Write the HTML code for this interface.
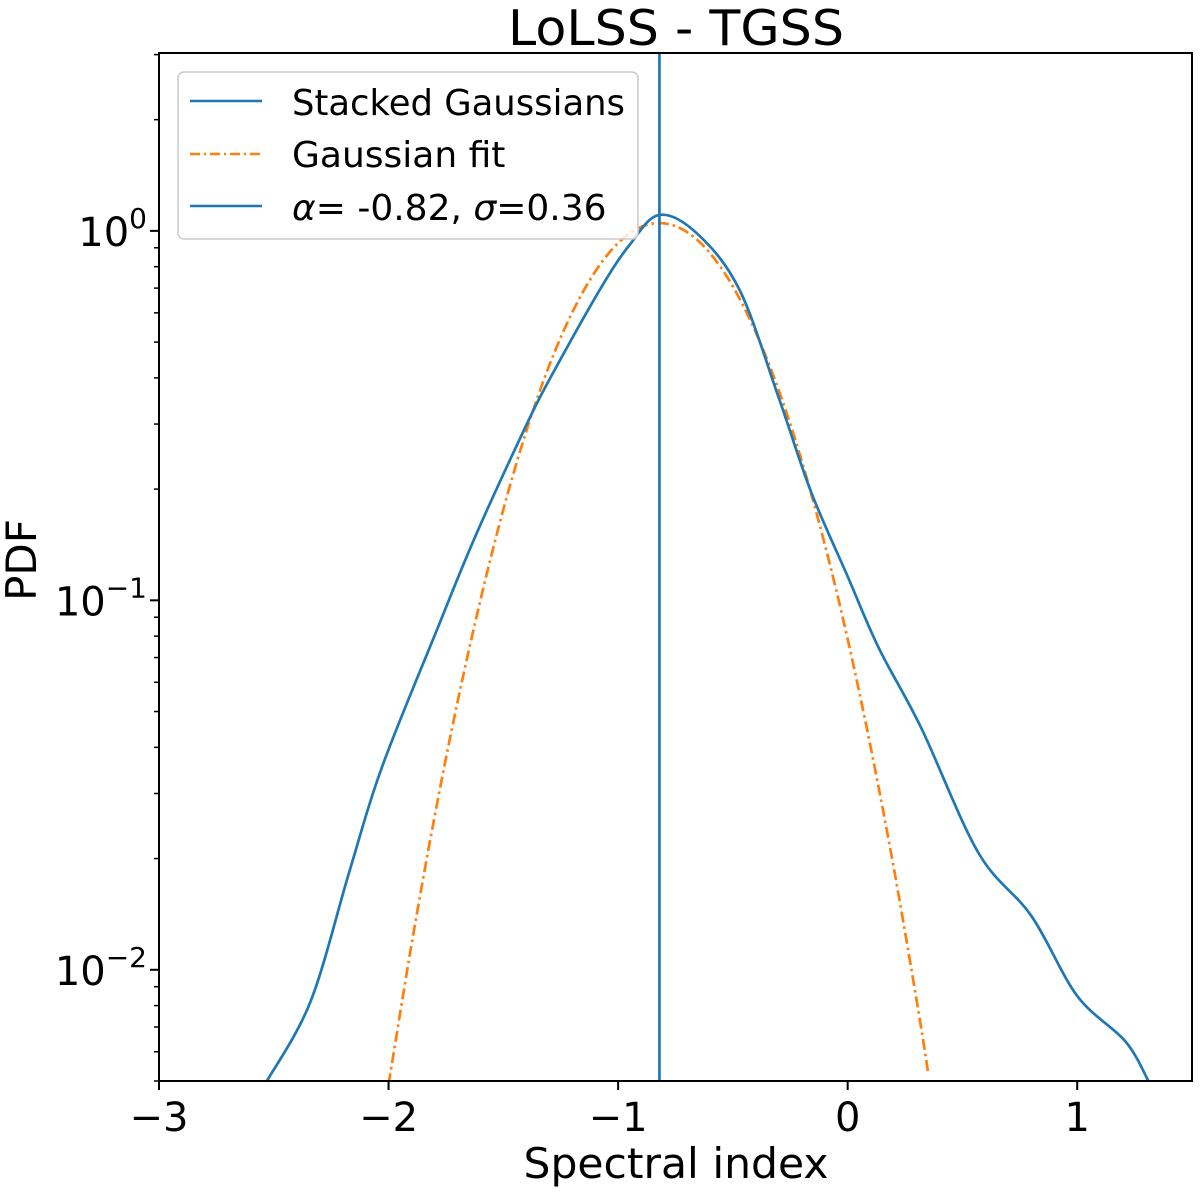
<!DOCTYPE html>
<html><head><meta charset="utf-8"><style>
html,body{margin:0;padding:0;background:#fff;}
svg text{font-family:"DejaVu Sans","Liberation Sans",sans-serif;fill:#000;}
</style></head><body>
<svg id="chart" width="1200" height="1191" viewBox="0 0 1200 1191" xmlns="http://www.w3.org/2000/svg">
<text x="676" y="45" font-size="49" text-anchor="middle" textLength="336" lengthAdjust="spacingAndGlyphs">LoLSS - TGSS</text>
<g id="plot"></g>
<text x="676" y="1178" font-size="42" text-anchor="middle" textLength="305" lengthAdjust="spacingAndGlyphs">Spectral index</text>
<text transform="translate(36,560) rotate(-90)" font-size="42" text-anchor="middle">PDF</text>
<g>
<rect x="178" y="72" width="460" height="167" rx="6" fill="#fff" fill-opacity="0.8" stroke="#ccc" stroke-width="1.5"/>
<line x1="190" y1="101" x2="262" y2="101" stroke="#1f77b4" stroke-width="2.5"/>
<text x="292" y="115" font-size="36" textLength="333" lengthAdjust="spacingAndGlyphs">Stacked Gaussians</text>
<line x1="190" y1="154" x2="262" y2="154" stroke="#ff7f0e" stroke-width="2.5" stroke-dasharray="10,4,2,4"/>
<text x="292" y="167" font-size="36">Gaussian fit</text>
<line x1="190" y1="206" x2="262" y2="206" stroke="#1f77b4" stroke-width="2.5"/>
<text x="292" y="220" font-size="36"><tspan font-style="italic">α</tspan>= -0.82, <tspan font-style="italic">σ</tspan>=0.36</text>
</g>
</svg>
<script>
const stackedX = [-2.53,-2.34,-2.17,-2.03,-1.79,-1.62,-1.41,-1.30,-1.08,-0.95,-0.82,-0.65,-0.47,-0.30,-0.16,0.0,0.135,0.32,0.57,0.80,1.00,1.21,1.31];
const stackedY = [0.005,0.0082,0.0185,0.0352,0.083,0.150,0.289,0.395,0.692,0.916,1.105,0.976,0.69,0.353,0.197,0.116,0.0744,0.0452,0.0207,0.0140,0.0085,0.0064,0.005];
const fitX = [-2.0,-1.9,-1.8,-1.7,-1.6,-1.5,-1.4,-1.3,-1.2,-1.1,-1.0,-0.9,-0.8,-0.7,-0.6,-0.5,-0.4,-0.3,-0.2,-0.1,0.0,0.1,0.2,0.3,0.35];
const fitY = [0.0049,0.0117,0.0259,0.0529,0.100,0.176,0.287,0.432,0.601,0.776,0.927,1.025,1.048,0.993,0.871,0.707,0.531,0.370,0.238,0.142,0.0785,0.0401,0.0190,0.0083,0.0053];
const meanAlpha = -0.82;
const xTicks = [-3,-2,-1,0,1];
const xTickLabels = ["\u22123","\u22122","\u22121","0","1"];
const yTicks = [-2,-1,0];
const yTickLabels = ["\u22122","\u22121","0"];

const L=159, R=1192, T=53, B=1081;
const xMin=-3, xMax=1.5, yMin=Math.log10(0.005), yMax=Math.log10(3.03);
const sx = v => L + (v-xMin)/(xMax-xMin)*(R-L);
const sy = v => B - (Math.log10(v)-yMin)/(yMax-yMin)*(B-T);
const syl = l => B - (l-yMin)/(yMax-yMin)*(B-T);
const NS="http://www.w3.org/2000/svg";
const plot=document.getElementById('plot');
function mk(tag,attrs,parent){const e=document.createElementNS(NS,tag);for(const k in attrs)e.setAttribute(k,attrs[k]);(parent||plot).appendChild(e);return e;}

const defs=mk('defs',{});
const cp=mk('clipPath',{id:'clip'},defs);
mk('rect',{x:L,y:T,width:R-L,height:B-T},cp);

function smoothPath(xs,ys){
  const p=xs.map((x,i)=>[sx(x),sy(ys[i])]);
  let d='M'+p[0][0].toFixed(1)+','+p[0][1].toFixed(1);
  for(let i=0;i<p.length-1;i++){
    const p0=p[Math.max(0,i-1)],p1=p[i],p2=p[i+1],p3=p[Math.min(p.length-1,i+2)];
    const c1=[p1[0]+(p2[0]-p0[0])/6,p1[1]+(p2[1]-p0[1])/6];
    const c2=[p2[0]-(p3[0]-p1[0])/6,p2[1]-(p3[1]-p1[1])/6];
    d+=' C'+c1.map(v=>v.toFixed(1)).join(',')+' '+c2.map(v=>v.toFixed(1)).join(',')+' '+p2[0].toFixed(1)+','+p2[1].toFixed(1);
  }
  return d;
}
const g=mk('g',{'clip-path':'url(#clip)'});
const fit=mk('path',{d:smoothPath(fitX,fitY),fill:'none',stroke:'#ff7f0e','stroke-width':2.7,'stroke-dasharray':'11,4,2.5,4'},g);


const st=mk('path',{d:smoothPath(stackedX,stackedY),fill:'none',stroke:'#1f77b4','stroke-width':2.7},g);


const vl=mk('line',{x1:sx(meanAlpha),x2:sx(meanAlpha),y1:T,y2:B,stroke:'#1f77b4','stroke-width':2.7},g);



const fr=mk('rect',{x:L,y:T,width:R-L,height:B-T,fill:'none',stroke:'#000','stroke-width':2});



xTicks.forEach((t,i)=>{
  const x=sx(t);
  const tk=mk('line',{x1:x,x2:x,y1:B,y2:B+9,stroke:'#000','stroke-width':2});
  
  
  const tx=mk('text',{x:x,y:B+50,'font-size':40,'text-anchor':'middle'});
  tx.textContent=xTickLabels[i];
  
  
});
yTicks.forEach((t,i)=>{
  const y=syl(t);
  const tk=mk('line',{x1:L-9,x2:L,y1:y,y2:y,stroke:'#000','stroke-width':2});
  
  
  const tx=mk('text',{x:L-12,y:y+15,'font-size':40,'text-anchor':'end'});
  
  
  const b=document.createElementNS(NS,'tspan');b.textContent='10';tx.appendChild(b);
  const s=document.createElementNS(NS,'tspan');s.setAttribute('dy','-18');s.setAttribute('font-size','28');s.textContent=yTickLabels[i];tx.appendChild(s);
});
for(let d=-3;d<=0;d++){for(let m=2;m<=9;m++){const l=d+Math.log10(m);if(l<yMin||l>yMax)continue;const y=syl(l);
  const tk=mk('line',{x1:L-5,x2:L,y1:y,y2:y,stroke:'#000','stroke-width':1.5});
  
  }}
</script>
</body></html>
